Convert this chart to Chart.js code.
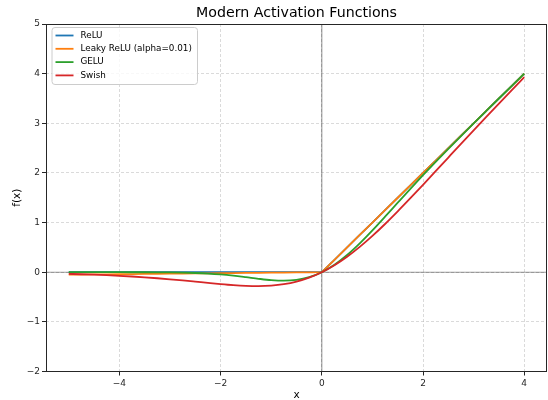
<!DOCTYPE html>
<html><head><meta charset="utf-8">
<script src="https://cdn.jsdelivr.net/npm/chart.js@4.4.1/dist/chart.umd.min.js"></script>
<style>html,body{margin:0;padding:0;background:#fff;}canvas{display:block;}</style>
</head><body>
<canvas id="c" width="548" height="400"></canvas>
<script>
const chartTitle = 'Modern Activation Functions';
const xAxisLabel = 'x';
const yAxisLabel = 'f(x)';
const seriesNames = ['ReLU', 'Leaky ReLU (alpha=0.01)', 'GELU', 'Swish'];
const seriesColors = ['#1f77b4', '#ff7f0e', '#2ca02c', '#d62728'];
const xTickValues = [-4, -2, 0, 2, 4];
const yTickValues = [-2, -1, 0, 1, 2, 3, 4, 5];
const xRange = [-5.45, 4.45];
const yRange = [-2, 5];

const xValues = [-5, -4.75, -4.5, -4.25, -4, -3.75, -3.5, -3.25, -3, -2.75, -2.5, -2.25, -2, -1.75, -1.5, -1.25, -1, -0.75, -0.5, -0.25, 0,
  0.25, 0.5, 0.75, 1, 1.25, 1.5, 1.75, 2, 2.25, 2.5, 2.75, 3, 3.25, 3.5, 3.75, 4];
const reluValues = [0, 0, 0, 0, 0, 0, 0, 0, 0, 0, 0, 0, 0, 0, 0, 0, 0, 0, 0, 0, 0,
  0.25, 0.5, 0.75, 1, 1.25, 1.5, 1.75, 2, 2.25, 2.5, 2.75, 3, 3.25, 3.5, 3.75, 4];
const leakyValues = [-0.05, -0.0475, -0.045, -0.0425, -0.04, -0.0375, -0.035, -0.0325, -0.03, -0.0275, -0.025, -0.0225, -0.02, -0.0175, -0.015, -0.0125, -0.01, -0.0075, -0.005, -0.0025, 0,
  0.25, 0.5, 0.75, 1, 1.25, 1.5, 1.75, 2, 2.25, 2.5, 2.75, 3, 3.25, 3.5, 3.75, 4];
const geluValues = [0, 0, -0.00002, -0.00005, -0.00013, -0.00033, -0.00081, -0.00188, -0.00405, -0.0082, -0.0155, -0.0275, -0.0455, -0.0701, -0.1002, -0.1321, -0.1587, -0.17, -0.1543, -0.1003, 0,
  0.1497, 0.3457, 0.58, 0.8413, 1.1179, 1.3998, 1.6799, 1.9545, 2.2225, 2.4845, 2.7418, 2.996, 3.2481, 3.4992, 3.7497, 3.9999];
const swishValues = [-0.0335, -0.0407, -0.0494, -0.0598, -0.0719, -0.0862, -0.1026, -0.1213, -0.1423, -0.1652, -0.1896, -0.2145, -0.2384, -0.2591, -0.2736, -0.2784, -0.2689, -0.2406, -0.1888, -0.1095, 0,
  0.1405, 0.3112, 0.5094, 0.7311, 0.9716, 1.2264, 1.4909, 1.7616, 2.0355, 2.3104, 2.5848, 2.8577, 3.1287, 3.3974, 3.6638, 3.9281];
const zeroHLineX = [-5.45, 4.45];
const zeroHLineY = [0, 0];
const zeroVLineX = [0, 0];
const zeroVLineY = [-2, 5];

const FONT = "'DejaVu Sans', 'Liberation Sans', sans-serif";
const pts = (xs, ys) => xs.map((x, i) => ({x: x, y: ys[i]}));
const seriesValues = [reluValues, leakyValues, geluValues, swishValues];

const datasets = seriesNames.map((name, i) => ({
  label: name,
  data: pts(xValues, seriesValues[i]),
  borderColor: seriesColors[i],
  backgroundColor: seriesColors[i],
  borderWidth: 1.8,
  pointRadius: 0,
  fill: false,
  cubicInterpolationMode: i >= 2 ? 'monotone' : 'default',
  tension: 0,
  order: 4 - i,
  inLegend: true
}));
datasets.push({label: 'y0', data: pts(zeroHLineX, zeroHLineY), borderColor: 'rgba(0,0,0,0.4)', borderWidth: 1.1, pointRadius: 0, order: 10, inLegend: false});
datasets.push({label: 'x0', data: pts(zeroVLineX, zeroVLineY), borderColor: 'rgba(0,0,0,0.4)', borderWidth: 1.1, pointRadius: 0, order: 10, inLegend: false});

const fmt = v => String(v).replace('-', '\u2212');

const decor = {
  id: 'decor',
  afterDraw(chart) {
    const ctx = chart.ctx, a = chart.chartArea;
    ctx.save();
    ctx.strokeStyle = '#262626';
    ctx.lineWidth = 1;
    const l = Math.floor(a.left) + 0.5, t = Math.floor(a.top) + 0.5;
    const r = Math.floor(a.right) - 0.5, b = Math.floor(a.bottom) + 0.5;
    ctx.strokeRect(l, t, r - l, b - t);
    ctx.fillStyle = '#000';
    ctx.font = '14.2px ' + FONT;
    ctx.textAlign = 'center';
    ctx.textBaseline = 'middle';
    ctx.fillText(chartTitle, (a.left + a.right) / 2, 13);
    const items = chart.data.datasets.filter(d => d.inLegend);
    const bx = a.left + 6, by = a.top + 3.5, bw = 145.5, bh = 57;
    ctx.beginPath();
    if (ctx.roundRect) ctx.roundRect(bx, by, bw, bh, 3); else ctx.rect(bx, by, bw, bh);
    ctx.fillStyle = 'rgba(255,255,255,0.8)';
    ctx.fill();
    ctx.strokeStyle = '#cccccc';
    ctx.lineWidth = 1;
    ctx.stroke();
    ctx.font = '8.8px ' + FONT;
    ctx.textAlign = 'left';
    items.forEach((d, i) => {
      const y = by + 8 + i * 13.3;
      ctx.strokeStyle = d.borderColor;
      ctx.lineWidth = 1.8;
      ctx.beginPath();
      ctx.moveTo(bx + 3.5, y);
      ctx.lineTo(bx + 21.5, y);
      ctx.stroke();
      ctx.fillStyle = '#000';
      ctx.fillText(d.label, bx + 28.5, y);
    });
    ctx.restore();
  }
};

new Chart(document.getElementById('c'), {
  type: 'line',
  data: {datasets: datasets},
  options: {
    responsive: false,
    devicePixelRatio: 1,
    animation: false,
    layout: {padding: {top: 24, right: 1, bottom: 0, left: 0}},
    plugins: {legend: {display: false}, title: {display: false}, tooltip: {enabled: false}},
    scales: {
      x: {
        type: 'linear',
        min: xRange[0], max: xRange[1],
        afterBuildTicks: s => { s.ticks = xTickValues.map(v => ({value: v})); },
        afterFit: s => { s.height = 28.5; },
        ticks: {callback: fmt, font: {family: FONT, size: 9}, color: '#262626', padding: 3, maxRotation: 0, autoSkip: false},
        grid: {color: 'rgba(176,176,176,0.6)', lineWidth: 0.8, drawTicks: true, tickLength: 4, tickColor: '#262626', tickWidth: 1, tickBorderDash: []},
        border: {display: false, dash: [3, 2]},
        title: {display: true, text: xAxisLabel, font: {family: FONT, size: 10.5}, color: '#000', padding: {top: 0, bottom: -1.5}}
      },
      y: {
        type: 'linear',
        min: yRange[0], max: yRange[1],
        afterBuildTicks: s => { s.ticks = yTickValues.map(v => ({value: v})); },
        afterFit: s => { s.width = 46; },
        ticks: {callback: fmt, font: {family: FONT, size: 9}, color: '#262626', padding: 2, autoSkip: false},
        grid: {color: 'rgba(176,176,176,0.6)', lineWidth: 0.8, drawTicks: true, tickLength: 4, tickColor: '#262626', tickWidth: 1, tickBorderDash: []},
        border: {display: false, dash: [3, 2]},
        title: {display: true, text: yAxisLabel, font: {family: FONT, size: 10.5}, color: '#000', padding: {top: 10.5, bottom: 0}}
      }
    }
  },
  plugins: [decor]
});
</script>
</body></html>
